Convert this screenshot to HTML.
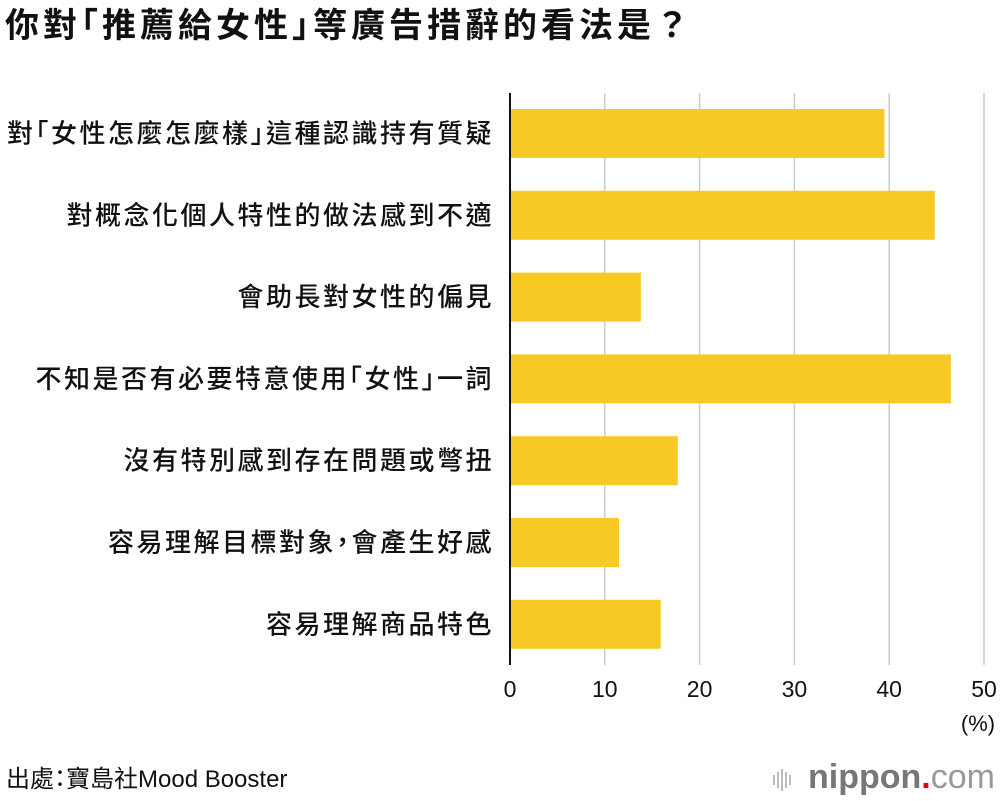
<!DOCTYPE html>
<html><head><meta charset="utf-8"><style>
body{margin:0;background:#fff;width:1000px;height:796px;overflow:hidden;font-family:"Liberation Sans","Noto Sans CJK TC",sans-serif}
.cjk{font-family:"Noto Sans CJK TC",sans-serif;font-feature-settings:"halt"}
</style></head><body>
<svg width="1000" height="796" xmlns="http://www.w3.org/2000/svg" id="chart" font-family="Liberation Sans, Noto Sans CJK TC, sans-serif">
<text class="cjk" x="5" y="37" font-size="34" font-weight="bold" letter-spacing="4" fill="#111">你對「推薦給女性」等廣告措辭的看法是？</text>
<g id="grid"></g><g id="bars"></g><g id="labels"></g><g id="ticks"></g>
<line x1="510" y1="93" x2="510" y2="665" stroke="#111" stroke-width="2"/>
<text x="978" y="731" font-size="22" text-anchor="middle" fill="#111">(%)</text>
<text x="6" y="787" font-size="24" fill="#111"><tspan class="cjk">出處：寶島社</tspan>Mood Booster</text>
<g>
<g fill="#bbb"><rect x="773" y="775" width="2" height="10"/><rect x="777" y="772" width="2" height="16"/><rect x="781" y="769" width="2" height="22"/><rect x="785" y="772" width="2" height="16"/><rect x="789" y="775" width="2" height="10"/></g>
<text x="808" y="788" font-size="34" font-weight="bold" fill="#777">nippon<tspan fill="#e60012">.</tspan><tspan font-weight="normal" fill="#999">com</tspan></text>
</g>
</svg>
<script>
const categories=["對「女性怎麼怎麼樣」這種認識持有質疑","對概念化個人特性的做法感到不適","會助長對女性的偏見","不知是否有必要特意使用「女性」一詞","沒有特別感到存在問題或彆扭","容易理解目標對象，會產生好感","容易理解商品特色"];
const values=[39.5,44.8,13.8,46.5,17.7,11.5,15.9];
const tickValues=[0,10,20,30,40,50];
const NS="http://www.w3.org/2000/svg";
const x0=510,x1=984,xMax=50;
const xs=v=>x0+(x1-x0)*v/xMax;
const rowTop=93,rowH=81.8,barH=49;
const ys=i=>rowTop+16+i*rowH;
function mk(t,a,p){const e=document.createElementNS(NS,t);for(const k in a)e.setAttribute(k,a[k]);p.appendChild(e);return e;}
const grid=document.getElementById('grid'),bars=document.getElementById('bars'),labels=document.getElementById('labels'),ticks=document.getElementById('ticks');
tickValues.forEach(v=>{
 if(v>0){const g=mk('line',{x1:xs(v),x2:xs(v),y1:93,y2:665,stroke:'#ccc','stroke-width':1.5},grid);
 
 }
 const t=mk('text',{x:xs(v),y:697,'font-size':23,'text-anchor':'middle',fill:'#111'},ticks);t.textContent=v;
 
 
});
categories.forEach((c,i)=>{
 const r=mk('rect',{x:x0,y:ys(i),width:xs(values[i])-x0,height:barH,fill:'#f7c925'},bars);
 
 
 const t=mk('text',{class:'cjk',x:494,y:ys(i)+barH/2+9,'font-size':26,'letter-spacing':2.5,'font-weight':500,'text-anchor':'end',fill:'#111'},labels);t.textContent=c;
 
 
});
</script>
</body></html>
